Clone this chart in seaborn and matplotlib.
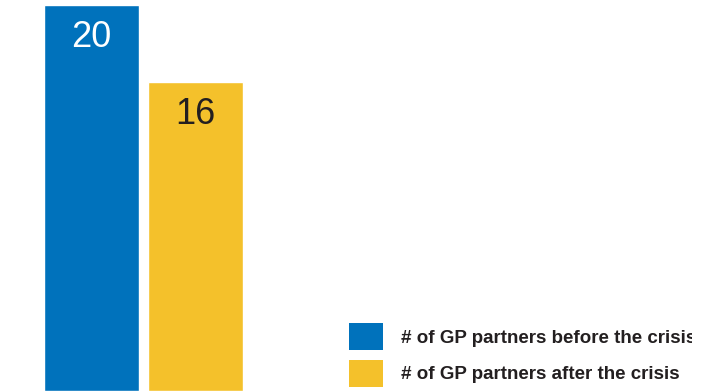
import matplotlib
matplotlib.use("Agg")
import matplotlib.pyplot as plt
import seaborn as sns
import pandas as pd
from matplotlib.patches import Patch
from matplotlib.transforms import Bbox, TransformedBbox

categories = ["# of GP partners before the crisis", "# of GP partners after the crisis"]
values = [20, 16]
colors = ["#0072BC", "#F4C12B"]
label_colors = ["white", "#231F20"]

sns.set_theme(style="white")
plt.rcParams['font.family'] = ['Liberation Sans', 'DejaVu Sans']

df = pd.DataFrame({"cat": categories, "val": values})

fig = plt.figure(figsize=(7.02, 3.91), dpi=100)
ax = fig.add_axes([0, 0, 1, 1])
sns.barplot(data=df, x="cat", y="val", hue="cat", palette=colors, width=0.92,
            dodge=False, legend=False, ax=ax, saturation=1)

ax.set_xlim(-0.88, 5.87)
ax.set_ylim(0, 20 * 391 / 386)
ax.axis("off")

for i, (v, c) in enumerate(zip(values, label_colors)):
    ax.annotate(str(v), (i, v), xytext=(0, -15), textcoords="offset pixels",
                ha="center", va="top", fontsize=26, color=c)

handles = [Patch(facecolor=c, edgecolor="none") for c in colors]
fs = 13.5
leg = ax.legend(handles, categories, loc="upper left", bbox_to_anchor=(349 / 702, 1 - 323 / 391),
                frameon=False, borderpad=0, borderaxespad=0, handlelength=1.81, handleheight=1.84,
                handletextpad=0.96, labelspacing=0.53,
                prop={"weight": "bold", "size": fs}, labelcolor="#231F20")

clip = TransformedBbox(Bbox([[0, 0], [692 / 702, 1]]), fig.transFigure)
for t in leg.get_texts():
    t.set_clip_box(clip)
    t.set_clip_on(True)

fig.savefig("out.png", dpi=100)
